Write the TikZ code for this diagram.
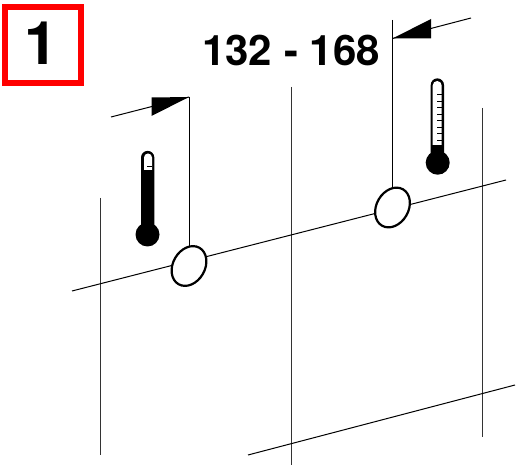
\documentclass[tikz,border=0pt]{standalone}
\usepackage{fontspec}
\setmainfont{TeX Gyre Heros}
\usetikzlibrary{shapes.geometric,backgrounds}
\tikzset{
  gridline/.style={line width=1pt,draw=black!80},
  dimline/.style={line width=1pt,draw=black},
  valve/.style={ellipse,draw=black,line width=2.2pt,fill=white,inner sep=0pt,minimum width=42pt,minimum height=32pt,rotate=60},
  head/.style={fill=black,draw=none},
  thermo/.style={fill=black,draw=none},
  bore/.style={fill=white,draw=none},
  tick/.style={line width=1pt,draw=black},
  markbox/.style={draw=red,line width=6pt,fill=white,minimum size=76pt,inner sep=0pt},
  bigtext/.style={font=\bfseries\fontsize{42}{46}\selectfont,inner sep=0pt,text=black}
}
\begin{document}
\begin{tikzpicture}[x=1pt,y=-1pt]
\useasboundingbox (0,0) rectangle (517,465);
% valves
\node[valve] (v1) at (189,266) {};
\node[valve] (v2) at (392.5,207.5) {};
% grid
\coordinate (l1) at (100,198); \coordinate (l2) at (100,455);
\coordinate (m1) at (291,87);  \coordinate (m2) at (291,465);
\coordinate (r1) at (482,108); \coordinate (r2) at (482,437);
\coordinate (t1) at (72,291);  \coordinate (t2) at (506,180);
\coordinate (b1) at (248,455); \coordinate (b2) at (515,385);
% dimension lines
\coordinate (d1) at (189,97);
\coordinate (d2) at (392.5,20);
\coordinate (a1) at (111,117);
\coordinate (a2) at (471,18);
\coordinate (tip1) at (189,97);
\coordinate (tip2) at (392.5,38.5);
\begin{scope}[on background layer]
\fill[white] (0,0) rectangle (517,465);
\draw[gridline] (l1) -- (l2);
\draw[gridline] (m1) -- (m2);
\draw[gridline] (r1) -- (r2);
\draw[dimline] (t1) -- (t2);
\draw[dimline] (b1) -- (b2);
\draw[dimline] (d1) -- (v1.center);
\draw[dimline] (d2) -- (v2.center);
\end{scope}
\draw[dimline] (a1) -- (tip1);
\draw[dimline] (a2) -- (tip2);
\fill[head] (tip1) -- (151.5,97.5) -- (151.5,116) -- cycle;
\fill[head] (tip2) -- (431,19) -- (431,38.5) -- cycle;
% thermometer 1
\fill[thermo] (147.5,234.5) circle (12);
\fill[thermo] (141,236) -- (141,157.5) arc[start angle=180,end angle=360,radius=6.65] -- (154.3,236) -- cycle;
\fill[bore] (144,170) -- (144,157.5) arc[start angle=180,end angle=360,radius=4] -- (152,170) -- cycle;
\draw[tick] (147,167) -- (152,167);
% thermometer 2
\fill[thermo] (437.7,162.7) circle (12);
\fill[thermo] (430.7,165) -- (430.7,85) arc[start angle=180,end angle=360,radius=6.65] -- (444,165) -- cycle;
\fill[bore] (432.7,145) -- (432.7,85.5) arc[start angle=180,end angle=360,radius=4.5] -- (441.7,145) -- cycle;
\foreach \yy in {95,101.5,108,114.5,121,127.5,134,140.5}
  \draw[tick] (437,\yy) -- (442,\yy);
% labels
\node[markbox] (mark) at (43,45) {};
\node[bigtext,font=\bfseries\fontsize{60}{62}\selectfont] (one) at (41,43.5) {1};
\node[bigtext] (dim) at (291,50) {132 - 168};
\end{tikzpicture}
\end{document}
